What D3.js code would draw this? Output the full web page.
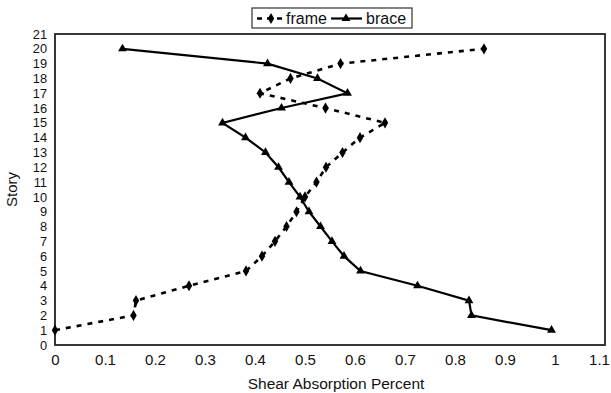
<!DOCTYPE html>
<html><head><meta charset="utf-8">
<script src="https://cdn.jsdelivr.net/npm/d3@7/dist/d3.min.js"></script>
<style>body{margin:0;background:#fff;} svg{display:block;}</style>
</head><body>
<svg id="chart" width="611" height="393"></svg>
<script>
const stories = [1,2,3,4,5,6,7,8,9,10,11,12,13,14,15,16,17,18,19,20];
const frameValues = [0.0,0.157,0.162,0.268,0.382,0.414,0.44,0.463,0.483,0.5,0.523,0.542,0.575,0.61,0.66,0.541,0.41,0.471,0.571,0.858];
const braceValues = [0.993,0.833,0.828,0.725,0.611,0.578,0.554,0.531,0.508,0.49,0.468,0.447,0.421,0.381,0.335,0.453,0.585,0.525,0.425,0.135];
const xTicks = [0,0.1,0.2,0.3,0.4,0.5,0.6,0.7,0.8,0.9,1,1.1];
const yTicks = d3.range(0,22);
const seriesNames = ["frame","brace"];

const svg = d3.select("#chart");
const font = "'Liberation Sans', Arial, sans-serif";
const L = 55, R = 605, T = 34, B = 345;
const x = d3.scaleLinear().domain([0,1.1]).range([L,R]);
const y = d3.scaleLinear().domain([0,21]).range([B,T]);

// axes (labels only)
const xAxis = d3.axisBottom(x).tickValues(xTicks).tickFormat(d3.format("~g")).tickSize(0).tickPadding(9);
const gx = svg.append("g").attr("transform",`translate(0,${B})`).call(xAxis);
gx.select(".domain").remove();
gx.selectAll("text").attr("font-family",font).attr("font-size",15).attr("fill","#111");
gx.selectAll(".tick").filter(d=>d===1.1).select("text").attr("dx",-6);

const yAxis = d3.axisLeft(y).tickValues(yTicks).tickSize(0).tickPadding(8);
const gy = svg.append("g").attr("transform",`translate(${L},0)`).call(yAxis);
gy.select(".domain").remove();
gy.selectAll("text").attr("font-family",font).attr("font-size",12.8).attr("fill","#111");

// plot box
svg.append("rect").attr("x",L).attr("y",T).attr("width",R-L).attr("height",B-T)
  .attr("fill","none").attr("stroke","#222").attr("stroke-width",1.8);

// titles
svg.append("text").attr("x",336).attr("y",389).attr("text-anchor","middle")
  .attr("font-family",font).attr("font-size",15.5).attr("fill","#111").text("Shear Absorption Percent");
svg.append("text").attr("transform",`translate(17,${(T+B)/2}) rotate(-90)`).attr("text-anchor","middle")
  .attr("font-family",font).attr("font-size",15).attr("fill","#111").text("Story");

const frameData = stories.map((s,i)=>({s, v: frameValues[i]}));
const braceData = stories.map((s,i)=>({s, v: braceValues[i]}));
const line = d3.line().x(d=>x(d.v)).y(d=>y(d.s));

svg.append("path").datum(frameData).attr("d",line).attr("fill","none")
  .attr("stroke","#000").attr("stroke-width",2.6).attr("stroke-dasharray","5,6");
svg.append("path").datum(braceData).attr("d",line).attr("fill","none")
  .attr("stroke","#000").attr("stroke-width",2.2);

const diamond = d3.symbol().type(d3.symbolDiamond).size(36);
const tri = d3.symbol().type(d3.symbolTriangle).size(34);
svg.append("g").selectAll("path").data(frameData).join("path")
  .attr("d",diamond).attr("transform",d=>`translate(${x(d.v)},${y(d.s)})`).attr("fill","#000");
svg.append("g").selectAll("path").data(braceData).join("path")
  .attr("d",tri).attr("transform",d=>`translate(${x(d.v)},${y(d.s)})`).attr("fill","#000");

// legend
const lg = svg.append("g");
lg.append("rect").attr("x",252).attr("y",8).attr("width",160).attr("height",20)
  .attr("fill","#fff").attr("stroke","#333").attr("stroke-width",1.2);
lg.append("line").attr("x1",257).attr("x2",283).attr("y1",18.5).attr("y2",18.5)
  .attr("stroke","#000").attr("stroke-width",2.6).attr("stroke-dasharray","5,5");
lg.append("path").attr("d",diamond).attr("transform","translate(271,18.5)").attr("fill","#000");
lg.append("text").attr("x",286).attr("y",24).attr("font-family",font).attr("font-size",16).attr("fill","#111").text(seriesNames[0]);
lg.append("line").attr("x1",331).attr("x2",362).attr("y1",18.5).attr("y2",18.5)
  .attr("stroke","#000").attr("stroke-width",2.2);
lg.append("path").attr("d",tri).attr("transform","translate(346,18.5)").attr("fill","#000");
lg.append("text").attr("x",366).attr("y",24).attr("font-family",font).attr("font-size",16).attr("fill","#111").text(seriesNames[1]);
</script>
</body></html>
